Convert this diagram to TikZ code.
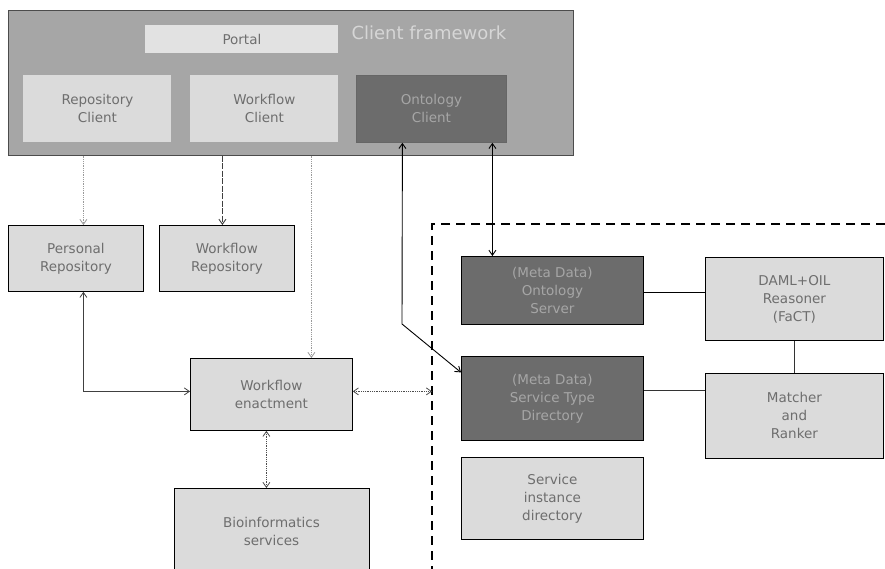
\documentclass[tikz,border=0pt]{standalone}
\usepackage{fontspec}
\setmainfont{DejaVu Sans}
\usetikzlibrary{arrows.meta,calc}

\definecolor{frame}{HTML}{A6A6A6}
\definecolor{lightbox}{HTML}{DBDBDB}
\definecolor{darkbox}{HTML}{6C6C6C}
\definecolor{lighttext}{HTML}{6E6E6E}
\definecolor{darktext}{HTML}{A6A6A6}
\definecolor{frametext}{HTML}{D6D6D6}
\definecolor{dotcol}{HTML}{9A9A9A}

\tikzset{
  lbox/.style={draw=black, line width=0.8pt, fill=lightbox, text=lighttext,
    anchor=north west, align=center, inner sep=0pt,
    font=\fontsize{13.5}{18}\selectfont},
  dbox/.style={lbox, fill=darkbox, text=darktext},
  vtip/.tip={Straight Barb[length=5pt,width=7pt]},
  dotarrow/.style={draw=dotcol, line width=0.8pt, densely dotted},
  solidarrow/.style={draw=black, line width=0.9pt},
}

\begin{document}
\begin{tikzpicture}[x=1pt,y=-1pt]
  \useasboundingbox (0,0) rectangle (885,569);
  \fill[white] (0,0) rectangle (885,569);

  % client framework
  \node[draw=black!70, line width=0.7pt, fill=frame, anchor=north west,
        minimum width=565pt, minimum height=145pt, inner sep=0pt] (cf) at (8,10) {};
  \node[text=frametext, font=\fontsize{18}{21}\selectfont, anchor=west] (cft) at (348,33) {Client framework};
  \node[lbox, draw=none, fill=lightbox!80!white, minimum width=193pt, minimum height=28pt] (portal) at (145,25) {Portal};
  \node[lbox, draw=none, minimum width=148pt, minimum height=67pt] (rc) at (23,75) {Repository\\Client};
  \node[lbox, draw=none, minimum width=148pt, minimum height=67pt] (wc) at (190,75) {Workflow\\Client};
  \node[dbox, draw=black!60, minimum width=150pt, minimum height=67pt] (oc) at (356,75) {Ontology\\Client};

  % repositories and enactment
  \node[lbox, minimum width=135pt, minimum height=66pt] (pr) at (8,225) {Personal\\Repository};
  \node[lbox, minimum width=135pt, minimum height=66pt] (wr) at (159,225) {Workflow\\Repository};
  \node[lbox, minimum width=162pt, minimum height=72pt] (we) at (190,358) {Workflow\\enactment};
  \node[lbox, minimum width=195pt, minimum height=90pt] (bio) at (174,488) {};
  \node[text=lighttext, font=\fontsize{13.5}{18}\selectfont, align=center] (biot) at (271.5,531) {Bioinformatics\\services};

  % service registry region
  \coordinate (corner) at (432,224);
  \coordinate (rightend) at (885,224);
  \coordinate (bottomend) at (432,569);
  \draw[black, line width=1.6pt, dash pattern=on 9pt off 6pt] (rightend) -- (corner) -- (bottomend);

  \node[dbox, minimum width=182pt, minimum height=68pt] (os) at (461,256) {(Meta Data)\\Ontology\\Server};
  \node[dbox, minimum width=182pt, minimum height=84pt] (std) at (461,356) {(Meta Data)\\Service Type\\Directory};
  \node[lbox, minimum width=182pt, minimum height=82pt] (sid) at (461,457) {Service\\instance\\directory};
  \node[lbox, minimum width=178pt, minimum height=83pt] (daml) at (705,257) {DAML+OIL\\Reasoner\\(FaCT)};
  \node[lbox, minimum width=178pt, minimum height=85pt] (mr) at (705,373) {Matcher\\and\\Ranker};

  % client framework to repositories and enactment
  \coordinate (a1) at ([xshift=7.5pt]pr.north);
  \coordinate (a2) at ([xshift=-4.5pt]wr.north);
  \coordinate (a3) at ([xshift=40pt]we.north);
  \draw[dotarrow, -{vtip}] (a1 |- cf.south) -- (a1);
  \draw[draw=black!75, line width=0.9pt, dash pattern=on 6pt off 1.5pt, -{vtip}] (a2 |- cf.south) -- (a2);
  \draw[dotarrow, -{vtip}] (a3 |- cf.south) -- (a3);

  % ontology client links
  \coordinate (b1) at ([xshift=-29pt]oc.south);
  \coordinate (b2) at ([xshift=-60pt]os.north);
  \coordinate (bend) at (402,324);
  \coordinate (b3) at ([yshift=26pt]std.west);
  \draw[solidarrow, {vtip}-{vtip}] (b1) -- (bend) -- (b3);
  \draw[solidarrow, {vtip}-{vtip}] (b2 |- oc.south) -- (b2);

  % personal repository and enactment
  \coordinate (c1) at ([xshift=7.5pt]pr.south);
  \draw[draw=black!75, line width=0.8pt, {vtip}-{vtip}] (c1) |- ([yshift=3pt]we.west);
  \draw[dotarrow, draw=black!70, {vtip}-{vtip}] ([yshift=3pt]we.east) -- ([yshift=3pt]we.east -| corner);
  \draw[dotarrow, draw=black!70, {vtip}-{vtip}] ([xshift=-5pt]we.south) -- ([xshift=-5pt]we.south |- bio.north);

  % registry links
  \draw[black, line width=1.3pt] ([yshift=-2pt]os.east) -- ([yshift=-2pt]os.east -| daml.west);
  \draw[black!80, line width=0.8pt] ([yshift=8pt]std.east) -- ([yshift=8pt]std.east -| mr.west);
  \draw[black!80, line width=1pt] (daml.south) -- (mr.north);
\end{tikzpicture}
\end{document}
